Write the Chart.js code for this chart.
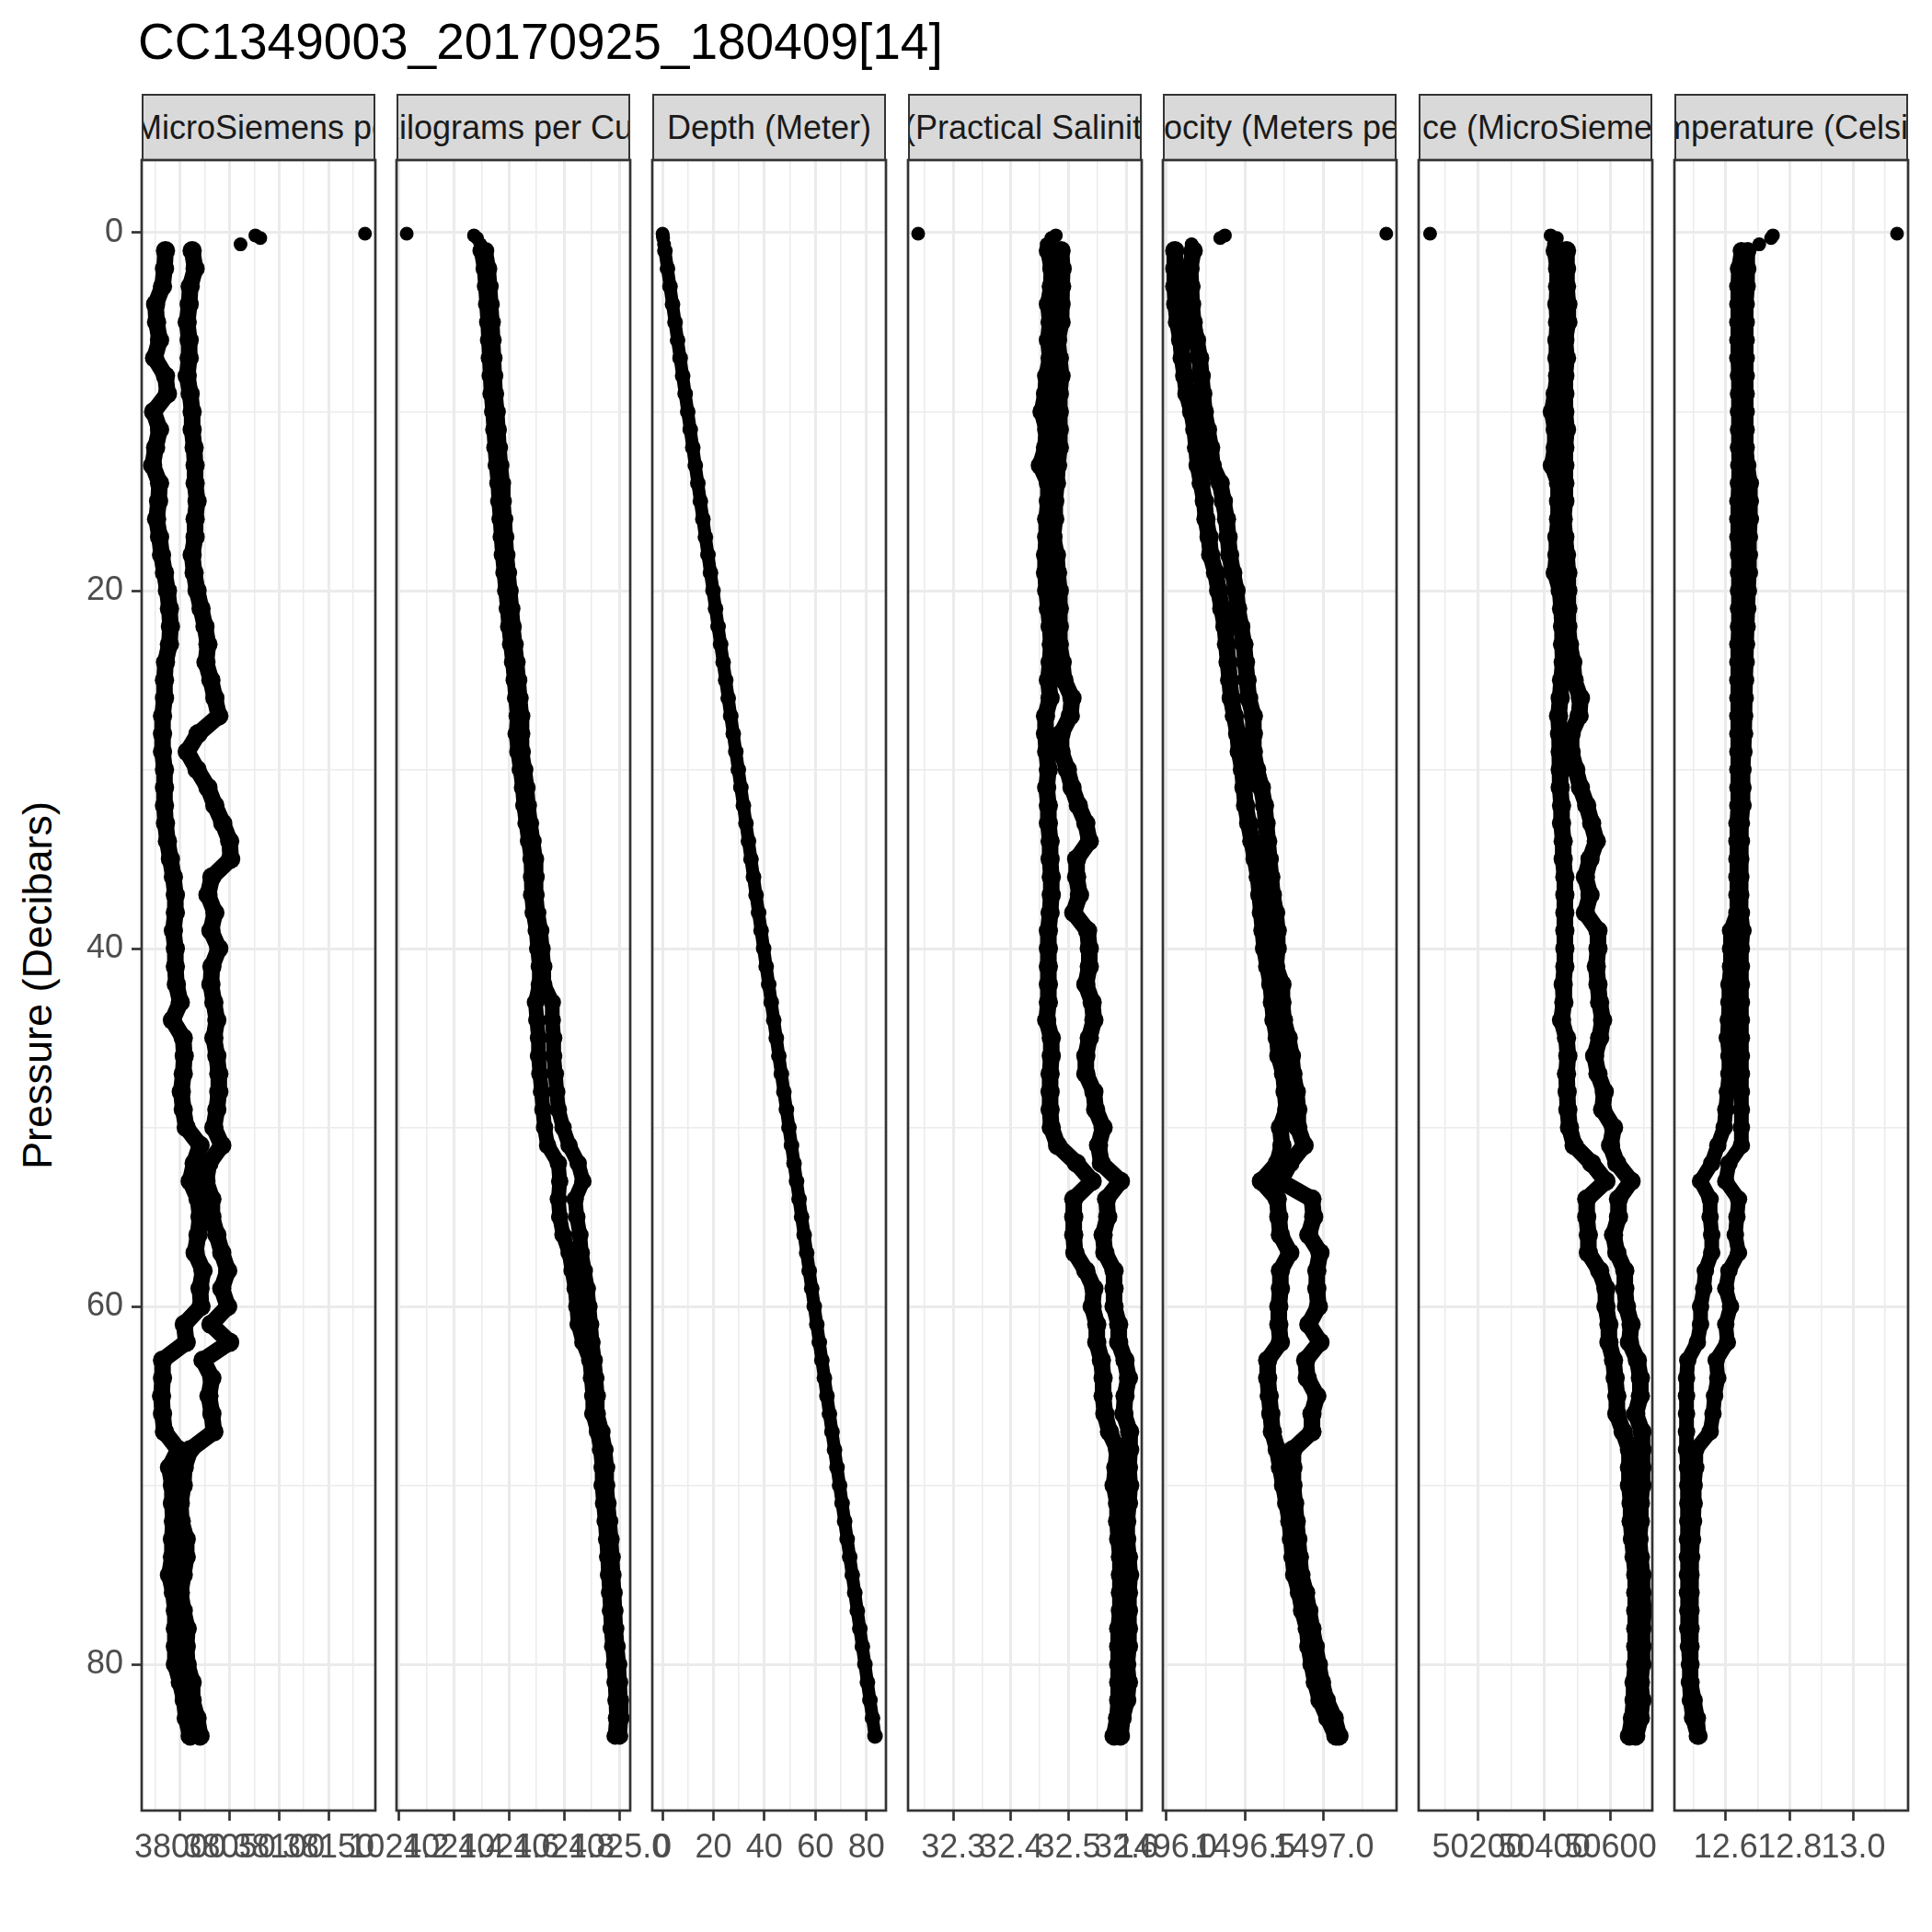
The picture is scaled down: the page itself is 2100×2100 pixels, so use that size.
<!DOCTYPE html>
<html>
<head>
<meta charset="utf-8">
<script src="https://cdn.jsdelivr.net/npm/chart.js@4.4.1/dist/chart.umd.min.js"></script>
<style>
html,body{margin:0;padding:0;background:#ffffff;}
body{width:2100px;height:2100px;position:relative;overflow:hidden;font-family:"Liberation Sans",Arial,sans-serif;}
#title{position:absolute;left:150px;top:18px;font-size:55px;line-height:1;color:#000;white-space:nowrap;}
#ylab{position:absolute;left:40px;top:1071px;transform:translate(-50%,-50%) rotate(-90deg);font-size:45px;line-height:1;color:#000;white-space:nowrap;}
.strip{position:absolute;box-sizing:border-box;background:#D9D9D9;border:2px solid #333333;display:flex;justify-content:center;align-items:center;overflow:hidden;white-space:nowrap;font-size:36px;color:#1A1A1A;}
.strip span{flex:none;}
canvas{position:absolute;}
</style>
</head>
<body>
<div id="title">CC1349003_20170925_180409[14]</div>
<div id="ylab">Pressure (Decibars)</div>
<script>
// ---------------- DATA ----------------
const panelNames = [
  'Conductivity (MicroSiemens per Centimeter)',
  'Density (Kilograms per Cubic Meter)',
  'Depth (Meter)',
  'Salinity (Practical Salinity Scale)',
  'Sound velocity (Meters per Second)',
  'Specific conductance (MicroSiemens per Centimeter)',
  'Temperature (Celsius)'
];

const pressure = [1,2,3,4,5,6,7,8,9,10,11,12,13,14,15,16,17,18,19,20,21,22,23,24,25,26,27,28,29,30,
  31,32,33,34,35,36,37,38,39,40,41,42,43,44,45,46,47,48,49,50,51,52,53,54,55,56,57,58,59,60,
  61,62,63,64,65,66,67,68,69,70,71,72,73,74,75,76,77,78,79,80,81,82,83,84];
const surfacePressure = [0.05, 0.15, 0.3, 0.65];

const conductivityA = [37985,37984,37982,37975,37976,37979,37974,37985,37987,37973,
  37979,37975,37972,37979,37978,37976,37979,37981,37984,37987,
  37989,37990,37989,37985,37984,37984,37982,37982,37982,37984,
  37984,37984,37985,37987,37990,37993,37995,37995,37993,37995,
  37995,37996,38000,37992,38003,38004,38003,38001,38003,38006,
  38020,38014,38010,38018,38020,38018,38015,38023,38020,38021,
  38004,38006,37982,37982,37981,37982,37984,37998,37989,37992,
  37992,37993,37992,37992,37989,37993,37995,37995,37995,37995,
  38000,38004,38006,38010];
const conductivityB = [38012,38015,38010,38009,38007,38009,38009,38007,38010,38012,
  38012,38014,38015,38015,38017,38015,38015,38012,38014,38017,
  38021,38025,38028,38026,38031,38035,38039,38018,38007,38017,
  38028,38035,38043,38050,38051,38032,38028,38035,38031,38039,
  38032,38031,38034,38037,38034,38037,38039,38039,38037,38034,
  38042,38029,38026,38032,38032,38037,38042,38048,38042,38048,
  38031,38050,38023,38032,38029,38032,38034,38010,38004,38003,
  38000,38001,38006,38006,38003,38000,38003,38007,38006,38007,
  38012,38012,38017,38020];
const conductivitySurface = [38187, 38076, 38081, 38061];

const densityA = [1024.499,1024.510,1024.515,1024.519,1024.523,1024.526,1024.529,1024.532,1024.535,1024.541,
  1024.545,1024.549,1024.554,1024.560,1024.563,1024.568,1024.572,1024.576,1024.582,1024.588,
  1024.594,1024.599,1024.606,1024.613,1024.619,1024.624,1024.630,1024.626,1024.632,1024.641,
  1024.649,1024.654,1024.662,1024.671,1024.680,1024.682,1024.682,1024.688,1024.699,1024.704,
  1024.710,1024.710,1024.696,1024.701,1024.707,1024.707,1024.712,1024.718,1024.723,1024.729,
  1024.740,1024.779,1024.784,1024.779,1024.784,1024.796,1024.818,1024.829,1024.840,1024.846,
  1024.851,1024.868,1024.893,1024.899,1024.904,1024.904,1024.921,1024.932,1024.938,1024.938,
  1024.943,1024.949,1024.954,1024.958,1024.961,1024.965,1024.968,1024.971,1024.976,1024.982,
  1024.985,1024.988,1024.990,1024.985];
const densityB = [1024.515,1024.526,1024.531,1024.535,1024.539,1024.542,1024.545,1024.548,1024.551,1024.557,
  1024.561,1024.565,1024.570,1024.576,1024.579,1024.584,1024.588,1024.592,1024.598,1024.604,
  1024.610,1024.615,1024.622,1024.629,1024.635,1024.640,1024.646,1024.646,1024.648,1024.657,
  1024.665,1024.670,1024.678,1024.687,1024.696,1024.698,1024.698,1024.704,1024.715,1024.720,
  1024.726,1024.726,1024.757,1024.757,1024.762,1024.762,1024.768,1024.773,1024.779,1024.796,
  1024.818,1024.851,1024.868,1024.840,1024.846,1024.857,1024.862,1024.873,1024.884,1024.890,
  1024.896,1024.901,1024.909,1024.915,1024.920,1024.920,1024.937,1024.948,1024.954,1024.954,
  1024.959,1024.965,1024.970,1024.974,1024.977,1024.981,1024.984,1024.987,1024.992,1024.998,
  1025.001,1025.004,1025.006,1025.001];
const densitySurface = [1024.229, 1024.473, 1024.484, 1024.496];

const depth = [0.99,1.99,2.98,3.97,4.96,5.96,6.95,7.94,8.93,9.93,
  10.92,11.91,12.90,13.90,14.89,15.88,16.87,17.87,18.86,19.85,
  20.84,21.84,22.83,23.82,24.82,25.81,26.80,27.79,28.79,29.78,
  30.77,31.76,32.76,33.75,34.74,35.73,36.73,37.72,38.71,39.70,
  40.70,41.69,42.68,43.67,44.67,45.66,46.65,47.64,48.64,49.63,
  50.62,51.62,52.61,53.60,54.59,55.59,56.58,57.57,58.56,59.56,
  60.55,61.54,62.53,63.53,64.52,65.51,66.50,67.50,68.49,69.48,
  70.47,71.47,72.46,73.45,74.45,75.44,76.43,77.42,78.42,79.41,
  80.40,81.39,82.39,83.38];
const depthSurface = [0.05, 0.15, 0.30, 0.65];

const salinityA = [32.465,32.471,32.470,32.465,32.468,32.465,32.468,32.462,32.460,32.454,
  32.462,32.460,32.451,32.465,32.465,32.462,32.462,32.460,32.460,32.462,
  32.465,32.468,32.470,32.468,32.465,32.468,32.460,32.460,32.462,32.465,
  32.462,32.465,32.465,32.468,32.468,32.470,32.470,32.468,32.465,32.465,
  32.465,32.465,32.465,32.462,32.470,32.470,32.468,32.468,32.468,32.470,
  32.481,32.514,32.541,32.509,32.509,32.509,32.511,32.530,32.544,32.541,
  32.549,32.549,32.557,32.560,32.560,32.563,32.571,32.585,32.582,32.579,
  32.585,32.585,32.587,32.590,32.590,32.590,32.590,32.587,32.587,32.587,
  32.587,32.587,32.585,32.579];
const salinityB = [32.487,32.489,32.488,32.487,32.487,32.481,32.484,32.487,32.484,32.484,
  32.484,32.484,32.481,32.479,32.476,32.476,32.473,32.479,32.481,32.484,
  32.484,32.484,32.484,32.489,32.492,32.506,32.503,32.487,32.487,32.498,
  32.506,32.517,32.530,32.536,32.514,32.514,32.519,32.509,32.533,32.536,
  32.536,32.530,32.541,32.544,32.536,32.530,32.530,32.544,32.547,32.560,
  32.552,32.557,32.590,32.566,32.568,32.560,32.563,32.579,32.579,32.579,
  32.587,32.587,32.598,32.604,32.598,32.596,32.606,32.606,32.604,32.606,
  32.604,32.601,32.601,32.604,32.606,32.604,32.604,32.604,32.604,32.601,
  32.604,32.601,32.593,32.590];
const salinitySurface = [32.239, 32.478, 32.470, 32.462];

const soundVelocityA = [1496.054,1496.054,1496.054,1496.060,1496.071,1496.091,1496.101,1496.117,1496.131,1496.161,
  1496.181,1496.192,1496.202,1496.222,1496.242,1496.252,1496.272,1496.282,1496.313,1496.333,
  1496.353,1496.373,1496.383,1496.393,1496.403,1496.413,1496.433,1496.454,1496.464,1496.484,
  1496.494,1496.504,1496.524,1496.544,1496.565,1496.585,1496.595,1496.605,1496.615,1496.625,
  1496.645,1496.665,1496.675,1496.685,1496.706,1496.716,1496.746,1496.756,1496.766,1496.726,
  1496.736,1496.706,1496.605,1496.706,1496.716,1496.726,1496.786,1496.726,1496.726,1496.716,
  1496.716,1496.726,1496.645,1496.645,1496.655,1496.665,1496.675,1496.706,1496.726,1496.746,
  1496.766,1496.786,1496.796,1496.806,1496.817,1496.847,1496.867,1496.897,1496.907,1496.927,
  1496.948,1496.978,1497.028,1497.079];
const soundVelocityB = [1496.171,1496.151,1496.157,1496.161,1496.171,1496.192,1496.212,1496.222,1496.232,1496.242,
  1496.262,1496.282,1496.292,1496.343,1496.363,1496.383,1496.393,1496.403,1496.423,1496.444,
  1496.454,1496.474,1496.494,1496.504,1496.514,1496.524,1496.554,1496.554,1496.554,1496.575,
  1496.605,1496.625,1496.635,1496.645,1496.655,1496.665,1496.675,1496.696,1496.706,1496.706,
  1496.696,1496.736,1496.736,1496.746,1496.776,1496.796,1496.806,1496.827,1496.837,1496.837,
  1496.877,1496.786,1496.726,1496.927,1496.938,1496.907,1496.978,1496.958,1496.958,1496.968,
  1496.907,1496.978,1496.887,1496.897,1496.958,1496.927,1496.927,1496.806,1496.806,1496.806,
  1496.817,1496.827,1496.837,1496.847,1496.857,1496.887,1496.907,1496.927,1496.948,1496.968,
  1496.988,1497.018,1497.069,1497.099];
const soundVelocitySurface = [1497.400, 1496.373, 1496.343, 1496.161];

const specificConductanceA = [50433,50440,50440,50438,50440,50438,50438,50440,50433,50424,
  50433,50433,50424,50443,50443,50443,50438,50438,50433,50448,
  50452,50455,50455,50457,50452,50448,50443,50446,50448,50448,
  50448,50452,50452,50457,50457,50462,50462,50462,50462,50462,
  50462,50457,50459,50452,50467,50471,50467,50469,50471,50476,
  50490,50543,50586,50528,50528,50533,50533,50567,50586,50586,
  50595,50595,50609,50614,50619,50619,50638,50657,50657,50657,
  50662,50662,50666,50671,50676,50676,50676,50676,50676,50676,
  50671,50671,50666,50657];
const specificConductanceB = [50467,50467,50467,50471,50471,50462,50467,50462,50462,50462,
  50467,50462,50462,50462,50462,50457,50462,50467,50471,50471,
  50471,50471,50476,50486,50490,50509,50505,50481,50481,50495,
  50509,50528,50543,50557,50538,50524,50538,50524,50562,50562,
  50557,50562,50567,50576,50567,50552,50562,50581,50576,50609,
  50600,50619,50662,50624,50624,50609,50619,50643,50643,50648,
  50662,50657,50681,50690,50690,50676,50695,50695,50695,50695,
  50690,50690,50686,50690,50695,50695,50700,50695,50695,50695,
  50690,50695,50690,50676];
const specificConductanceSurface = [50055, 50419, 50438, 50429];

const temperatureA = [12.649,12.640,12.638,12.638,12.638,12.638,12.638,12.640,12.640,12.640,
  12.640,12.640,12.641,12.640,12.638,12.638,12.638,12.640,12.640,12.640,
  12.640,12.640,12.638,12.638,12.638,12.638,12.638,12.638,12.638,12.638,
  12.638,12.638,12.635,12.635,12.635,12.635,12.635,12.635,12.615,12.615,
  12.615,12.610,12.610,12.608,12.605,12.610,12.610,12.605,12.600,12.595,
  12.575,12.556,12.521,12.551,12.551,12.556,12.556,12.536,12.531,12.521,
  12.521,12.511,12.481,12.477,12.477,12.477,12.477,12.477,12.480,12.481,
  12.481,12.481,12.480,12.480,12.480,12.480,12.481,12.481,12.483,12.486,
  12.486,12.489,12.496,12.511];
const temperatureB = [12.669,12.669,12.667,12.664,12.664,12.664,12.664,12.664,12.664,12.664,
  12.664,12.664,12.669,12.677,12.677,12.677,12.674,12.674,12.674,12.671,
  12.669,12.667,12.665,12.664,12.662,12.661,12.659,12.659,12.657,12.654,
  12.654,12.654,12.649,12.649,12.647,12.647,12.647,12.649,12.654,12.649,
  12.649,12.649,12.649,12.649,12.649,12.649,12.649,12.649,12.649,12.649,
  12.649,12.610,12.600,12.640,12.635,12.630,12.640,12.610,12.600,12.615,
  12.600,12.605,12.570,12.575,12.565,12.560,12.551,12.506,12.506,12.501,
  12.501,12.499,12.496,12.493,12.491,12.491,12.491,12.491,12.491,12.491,
  12.491,12.501,12.511,12.516];
const temperatureSurface = [13.137, 12.748, 12.742, 12.705];

// tick values and labels
const pressureTicks = [0, 20, 40, 60, 80];
const pressureTickLabels = ['0', '20', '40', '60', '80'];
const conductivityTicks = [38000, 38050, 38100, 38150];
const conductivityTickLabels = ['38000', '38050', '38100', '38150'];
const densityTicks = [1024.2, 1024.4, 1024.6, 1024.8, 1025.0];
const densityTickLabels = ['1024.2', '1024.4', '1024.6', '1024.8', '1025.0'];
const depthTicks = [0, 20, 40, 60, 80];
const depthTickLabels = ['0', '20', '40', '60', '80'];
const salinityTicks = [32.3, 32.4, 32.5, 32.6];
const salinityTickLabels = ['32.3', '32.4', '32.5', '32.6'];
const soundVelocityTicks = [1496.0, 1496.5, 1497.0];
const soundVelocityTickLabels = ['1496.0', '1496.5', '1497.0'];
const specificConductanceTicks = [50200, 50400, 50600];
const specificConductanceTickLabels = ['50200', '50400', '50600'];
const temperatureTicks = [12.6, 12.8, 13.0];
const temperatureTickLabels = ['12.6', '12.8', '13.0'];

// axis limits (as in the picture)
const pressureLimits = [-4.06, 88.17];
const conductivityLimits = [37960.9, 38197.5];
const densityLimits = [1024.192, 1025.0396];
const depthLimits = [-3.97, 87.67];
const salinityLimits = [32.2214, 32.627];
const soundVelocityLimits = [1495.978, 1497.4655];
const specificConductanceLimits = [50020.5, 50726.1];
const temperatureLimits = [12.439, 13.1716];

// ---------------- LAYOUT ----------------
const PANEL_LEFTS = [154, 431, 709, 987, 1264, 1542, 1820];
const PANEL_W = 254, PANEL_TOP = 174, PANEL_H = 1794;
const STRIP_TOP = 102;
const PADX = 110, PADT = 40, AXH = 90;
const FONT = 'Liberation Sans';

Chart.defaults.font.family = FONT;

function xy(xs, ys) { return xs.map((v, i) => ({ x: v, y: ys[i] })); }
function withMinor(ticks, lim) {
  const step = ticks[1] - ticks[0];
  const out = ticks.slice();
  for (let k = -1; k < ticks.length; k++) {
    const m = ticks[0] + step * (k + 0.5);
    if (m > lim[0] && m < lim[1]) out.push(m);
  }
  return out;
}

const borderPlugin = {
  id: 'panelBorder',
  afterDraw(chart) {
    const a = chart.chartArea, ctx = chart.ctx;
    ctx.save();
    ctx.strokeStyle = '#333333';
    ctx.lineWidth = 2.7;
    ctx.strokeRect(a.left, a.top, a.right - a.left, a.bottom - a.top);
    ctx.restore();
  }
};

function lineSet(data, width) {
  return { data, showLine: true, borderColor: '#000', borderWidth: width, borderJoinStyle: 'round', borderCapStyle: 'round',
    pointRadius: width / 2 + 1.5, pointBorderWidth: 0, pointBackgroundColor: '#000', tension: 0 };
}
function dotSet(data) {
  return { data, showLine: false, pointRadius: 7.5, pointBorderWidth: 0, pointBackgroundColor: '#000', borderColor: '#000' };
}

function makePanel(i, series, surface, ticks, labels, lim, width) {
  const first = i === 0;
  const strip = document.createElement('div');
  strip.className = 'strip';
  strip.style.left = PANEL_LEFTS[i] + 'px';
  strip.style.top = STRIP_TOP + 'px';
  strip.style.width = PANEL_W + 'px';
  strip.style.height = (PANEL_TOP - STRIP_TOP + 1) + 'px';
  const sp = document.createElement('span');
  sp.textContent = panelNames[i];
  strip.appendChild(sp);
  document.body.appendChild(strip);

  const canvas = document.createElement('canvas');
  const left = first ? 0 : PANEL_LEFTS[i] - PADX;
  const w = first ? PANEL_LEFTS[0] + PANEL_W + PADX : PANEL_W + 2 * PADX;
  const h = PADT + PANEL_H + AXH;
  canvas.width = w; canvas.height = h;
  canvas.style.left = left + 'px';
  canvas.style.top = (PANEL_TOP - PADT) + 'px';
  canvas.style.width = w + 'px';
  canvas.style.height = h + 'px';
  document.body.appendChild(canvas);

  const xMajor = new Set(ticks);
  const xLab = new Map(ticks.map((t, k) => [t, labels[k]]));
  const xAll = withMinor(ticks, lim);
  const yMajor = new Set(pressureTicks);
  const yLab = new Map(pressureTicks.map((t, k) => [t, pressureTickLabels[k]]));
  const yAll = withMinor(pressureTicks, pressureLimits);

  const datasets = series.map(s => lineSet(xy(s, pressure), width));
  if (surface) datasets.push(dotSet(xy(surface.values, surface.p)));

  new Chart(canvas, {
    type: 'scatter',
    data: { datasets },
    plugins: [borderPlugin],
    options: {
      responsive: false, animation: false, devicePixelRatio: 1,
      events: [],
      layout: { padding: { left: first ? 0 : PADX, right: PADX, top: PADT, bottom: 0 } },
      plugins: { legend: { display: false }, tooltip: { enabled: false } },
      scales: {
        x: {
          type: 'linear', position: 'bottom', min: lim[0], max: lim[1],
          afterBuildTicks: s => { s.ticks = xAll.map(v => ({ value: v })); },
          afterFit: s => { s.height = AXH; },
          border: { display: false },
          grid: {
            color: '#EBEBEB',
            lineWidth: c => (c.tick && xMajor.has(c.tick.value)) ? 3 : 1.5,
            drawTicks: true, tickLength: 11, tickWidth: 2.7,
            tickColor: c => (c.tick && xMajor.has(c.tick.value)) ? '#333333' : 'rgba(0,0,0,0)'
          },
          ticks: {
            autoSkip: false, maxRotation: 0, minRotation: 0, padding: 8,
            color: '#4D4D4D', font: { family: FONT, size: 36 },
            callback: v => xLab.has(v) ? xLab.get(v) : ''
          }
        },
        y: {
          type: 'linear', reverse: true, min: pressureLimits[0], max: pressureLimits[1],
          afterBuildTicks: s => { s.ticks = yAll.map(v => ({ value: v })); },
          afterFit: s => { s.width = first ? PANEL_LEFTS[0] : 0; },
          border: { display: false },
          grid: {
            color: '#EBEBEB',
            lineWidth: c => (c.tick && yMajor.has(c.tick.value)) ? 3 : 1.5,
            drawTicks: first, tickLength: 11, tickWidth: 2.7,
            tickColor: c => (first && c.tick && yMajor.has(c.tick.value)) ? '#333333' : 'rgba(0,0,0,0)'
          },
          ticks: {
            display: first, autoSkip: false, padding: 9,
            color: '#4D4D4D', font: { family: FONT, size: 36 },
            callback: v => yLab.has(v) ? yLab.get(v) : ''
          }
        }
      }
    }
  });
}

makePanel(0, [conductivityA, conductivityB], { values: conductivitySurface, p: surfacePressure }, conductivityTicks, conductivityTickLabels, conductivityLimits, 18);
makePanel(1, [densityA, densityB], { values: densitySurface, p: surfacePressure }, densityTicks, densityTickLabels, densityLimits, 16);
makePanel(2, [depth], { values: depthSurface, p: surfacePressure }, depthTicks, depthTickLabels, depthLimits, 14);
makePanel(3, [salinityA, salinityB], { values: salinitySurface, p: surfacePressure }, salinityTicks, salinityTickLabels, salinityLimits, 18);
makePanel(4, [soundVelocityA, soundVelocityB], { values: soundVelocitySurface, p: surfacePressure }, soundVelocityTicks, soundVelocityTickLabels, soundVelocityLimits, 18);
makePanel(5, [specificConductanceA, specificConductanceB], { values: specificConductanceSurface, p: surfacePressure }, specificConductanceTicks, specificConductanceTickLabels, specificConductanceLimits, 18);
makePanel(6, [temperatureA, temperatureB], { values: temperatureSurface, p: surfacePressure }, temperatureTicks, temperatureTickLabels, temperatureLimits, 16);
</script>
</body>
</html>
